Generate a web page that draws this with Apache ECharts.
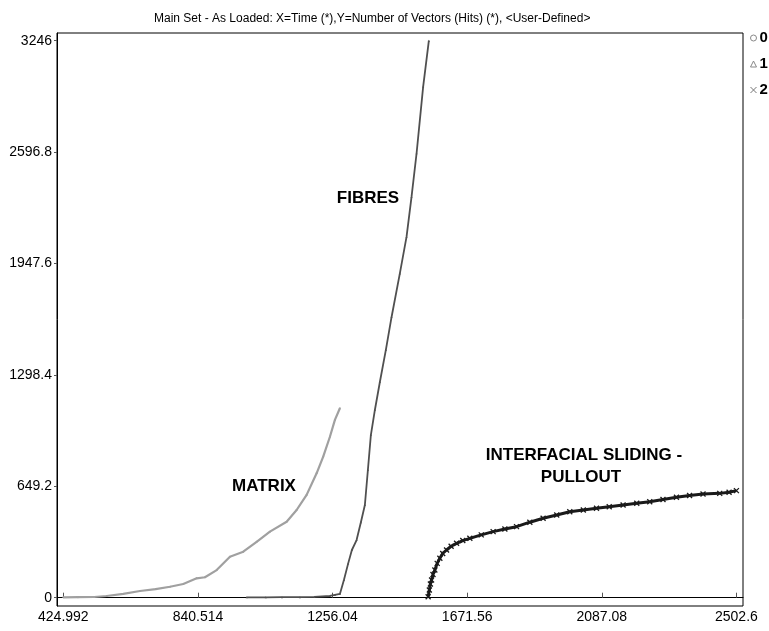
<!DOCTYPE html>
<html>
<head>
<meta charset="utf-8">
<script src="https://cdn.jsdelivr.net/npm/echarts@6/dist/echarts.min.js"></script>
<style>
  html, body { margin: 0; padding: 0; background: #ffffff; }
  #chart { width: 769px; height: 631px; }
</style>
</head>
<body>
<div id="chart"></div>
<script>
// Acoustic emission hit counts over time for three damage mechanisms
const titleText = 'Main Set - As Loaded: X=Time (*),Y=Number of Vectors (Hits) (*), <User-Defined>';

const xTickLabels = ['424.992', '840.514', '1256.04', '1671.56', '2087.08', '2502.6'];
const yTickLabels = ['0', '649.2', '1298.4', '1947.6', '2596.8', '3246'];

const seriesNames = ['0', '1', '2'];

// Series 0 : matrix cracking
const matrixTime = [425.0, 470, 520, 558.9, 610, 661.6, 710, 754.2, 795.2, 836.6, 862.2, 898.3, 939.3, 980.4, 1021.7, 1062.7, 1114.3, 1145.1, 1176.0, 1206.8, 1227.2, 1247.9, 1263.3, 1278.7];
const matrixHits = [2, 3, 4, 10, 22, 39, 50, 64, 80, 113, 119, 161, 239, 268, 326, 385, 443, 511, 599, 725, 822, 938, 1036, 1104];

// Series 1 : fibre breakage
const fibreTime = [990.8, 1050, 1100, 1155.3, 1200, 1247.9, 1263.3, 1278.7, 1291.1, 1304.3, 1315.7, 1330.2, 1343.5, 1355.8, 1365.1, 1374.3, 1386.7, 1402.1, 1420.6, 1438.2, 1463.8, 1484.5, 1499.9, 1515.4, 1535.7, 1553.3];
const fibreHits = [2, 2, 3, 3, 5, 10, 16, 22, 103, 200, 278, 336, 440, 540, 744, 948, 1094, 1257, 1444, 1636, 1890, 2104, 2337, 2590, 2978, 3246];

// Series 2 : interfacial sliding / pull-out
const pulloutTime = [1551.1, 1554.8, 1558, 1561.6, 1566, 1571.8, 1579, 1587.2, 1596, 1607.9, 1622, 1638.8, 1658, 1679.8, 1715, 1751.7, 1788, 1823.9, 1865, 1905.9, 1948, 1988.3, 2030, 2070.7, 2110, 2152.8, 2195, 2235.1, 2276, 2317.5, 2358, 2399.6, 2451.1, 2480, 2502.6];
const pulloutHits = [6, 45, 80, 103, 135, 161, 200, 230, 258, 278, 300, 317, 333, 346, 366, 385, 400, 414, 440, 463, 482, 501, 511, 521, 530, 540, 550, 559, 572, 585, 596, 604, 608, 615, 624];

const labelTexts = [
  { text: 'FIBRES', x: 368, y: 198 },
  { text: 'MATRIX', x: 264, y: 486 },
  { text: 'INTERFACIAL SLIDING -', x: 584, y: 455 },
  { text: 'PULLOUT', x: 581, y: 477 }
];

const zip = (xs, ys) => xs.map((x, i) => [x, ys[i]]);
const xTicks = xTickLabels.map(Number);
const yTicks = yTickLabels.map(Number);
const xSpan = xTicks[xTicks.length - 1] - xTicks[0];
const ySpan = yTicks[yTicks.length - 1] - yTicks[0];

const crossPath = 'path://M0,0L10,10M10,0L0,10';
const FONT = '"Liberation Sans", Arial, sans-serif';

const chart = echarts.init(document.getElementById('chart'), null, { renderer: 'canvas' });

chart.setOption({
  backgroundColor: '#ffffff',
  animation: false,
  title: {
    text: titleText,
    left: 149,
    top: 8,
    textStyle: { fontFamily: FONT, fontSize: 12, fontWeight: 'normal', color: '#000' }
  },
  legend: {
    orient: 'vertical',
    left: 745,
    top: 25,
    itemWidth: 6,
    itemHeight: 6,
    itemGap: 10,
    textStyle: { fontFamily: FONT, fontSize: 15, fontWeight: 'bold', color: '#000', lineHeight: 16, padding: [0, 0, 0, -2] },
    data: [
      { name: '0', icon: 'circle', itemStyle: { color: 'transparent', borderColor: '#888', borderWidth: 1 } },
      { name: '1', icon: 'triangle', itemStyle: { color: 'transparent', borderColor: '#888', borderWidth: 1 } },
      { name: '2', icon: crossPath, itemStyle: { color: 'transparent', borderColor: '#777', borderWidth: 1 } }
    ]
  },
  grid: {
    left: 57, right: 26, top: 33, bottom: 25,
    show: true, borderColor: '#000', borderWidth: 1, backgroundColor: 'transparent'
  },
  xAxis: {
    type: 'value',
    min: xTicks[0] - 0.0094 * xSpan,
    max: xTicks[xTicks.length - 1] + 0.0098 * xSpan,
    splitLine: { show: false },
    axisLine: { show: true, lineStyle: { color: '#000', width: 1 } },
    axisTick: { show: true, inside: true, length: 5, customValues: xTicks, lineStyle: { color: '#555' } },
    axisLabel: {
      customValues: xTicks,
      formatter: (v) => xTickLabels[xTicks.indexOf(v)] ?? '',
      margin: 4,
      fontFamily: FONT, fontSize: 14, color: '#000'
    }
  },
  yAxis: {
    type: 'value',
    min: yTicks[0] - 0.0149 * ySpan,
    max: yTicks[yTicks.length - 1] + 0.0138 * ySpan,
    splitLine: { show: false },
    axisLine: { show: true, lineStyle: { color: '#000', width: 1 } },
    axisTick: { show: true, inside: false, length: 3, customValues: yTicks, lineStyle: { color: '#555' } },
    axisLabel: {
      customValues: yTicks,
      formatter: (v) => yTickLabels[yTicks.indexOf(v)] ?? '',
      margin: 5,
      fontFamily: FONT, fontSize: 14, color: '#000'
    }
  },
  graphic: labelTexts.map(t => ({
    type: 'text',
    x: t.x, y: t.y,
    style: {
      text: t.text,
      fill: '#000',
      font: 'bold 17px ' + FONT,
      textAlign: 'center',
      textVerticalAlign: 'middle'
    }
  })),
  series: [
    {
      name: seriesNames[0], type: 'line',
      data: zip(matrixTime, matrixHits),
      showSymbol: true, symbol: 'circle', symbolSize: 2,
      lineStyle: { color: '#a0a0a0', width: 2.2 },
      itemStyle: { color: '#a0a0a0' }
    },
    {
      name: seriesNames[1], type: 'line',
      data: zip(fibreTime, fibreHits),
      showSymbol: true, symbol: 'triangle', symbolSize: 2,
      lineStyle: { color: '#505050', width: 1.8 },
      itemStyle: { color: '#505050' }
    },
    {
      name: seriesNames[2], type: 'line',
      data: zip(pulloutTime, pulloutHits),
      showSymbol: true, symbol: crossPath, symbolSize: 5,
      lineStyle: { color: '#1a1a1a', width: 3 },
      itemStyle: { color: 'transparent', borderColor: '#1a1a1a', borderWidth: 1.3 }
    }
  ]
});
</script>
</body>
</html>
